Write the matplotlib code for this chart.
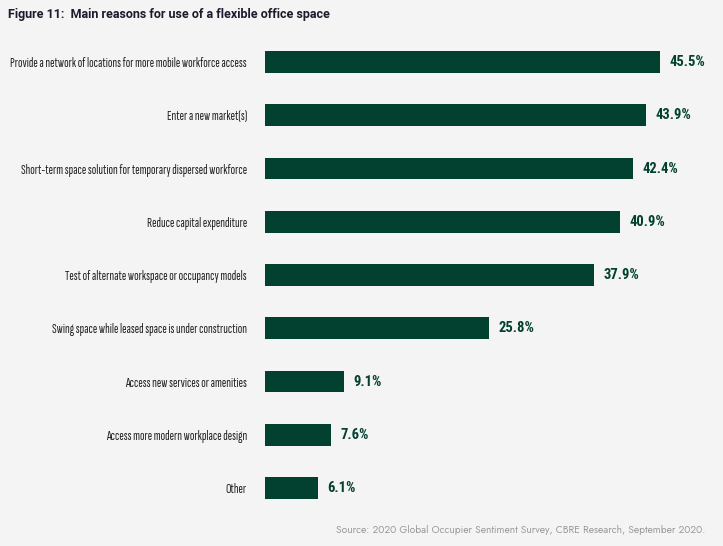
import matplotlib.pyplot as plt

# data
reasons = [
    "Provide a network of locations for more mobile workforce access",
    "Enter a new market(s)",
    "Short-term space solution for temporary dispersed workforce",
    "Reduce capital expenditure",
    "Test of alternate workspace or occupancy models",
    "Swing space while leased space is under construction",
    "Access new services or amenities",
    "Access more modern workplace design",
    "Other",
]
shares = [45.5, 43.9, 42.4, 40.9, 37.9, 25.8, 9.1, 7.6, 6.1]

bg = "#f4f4f4"
green = "#02402f"
narrow = ["Sofia Sans Extra Condensed", "Roboto Condensed", "DejaVu Sans"]
cond = ["Roboto Condensed", "DejaVu Sans"]

fig = plt.figure(figsize=(7.23, 5.46), dpi=100, facecolor=bg)
ax = fig.add_axes([0.3665, 0.0575, 0.6, 0.8775], facecolor=bg)

pos = list(range(len(reasons)))
ax.barh(pos, shares, height=0.41, color=green)
ax.set_ylim(len(reasons) - 0.5, -0.5)
ax.set_xlim(0, 50.0)
ax.set_yticks(pos)
ax.set_yticklabels(reasons, fontsize=9.7, family=narrow, color="#222222")
ax.tick_params(axis="y", length=0, pad=13)
ax.set_xticks([])
for s in ax.spines.values():
    s.set_visible(False)

for p, v in zip(pos, shares):
    ax.text(v + 1.1, p, f"{v:.1f}%", va="center", ha="left", fontsize=10.5,
            fontweight="bold", color=green, family=cond)

fig.text(0.011, 0.974, "Figure 11:  Main reasons for use of a flexible office space",
         fontsize=9, fontweight="bold", color="#1b1b2b", va="center", ha="left",
         family=["Roboto", "DejaVu Sans"])
fig.text(0.976, 0.029, "Source: 2020 Global Occupier Sentiment Survey, CBRE Research, September 2020.",
         fontsize=7.4, color="#9a9a9a", va="center", ha="right", family=["Jost", "DejaVu Sans"])

fig.savefig("out.png", dpi=100, facecolor=bg)
